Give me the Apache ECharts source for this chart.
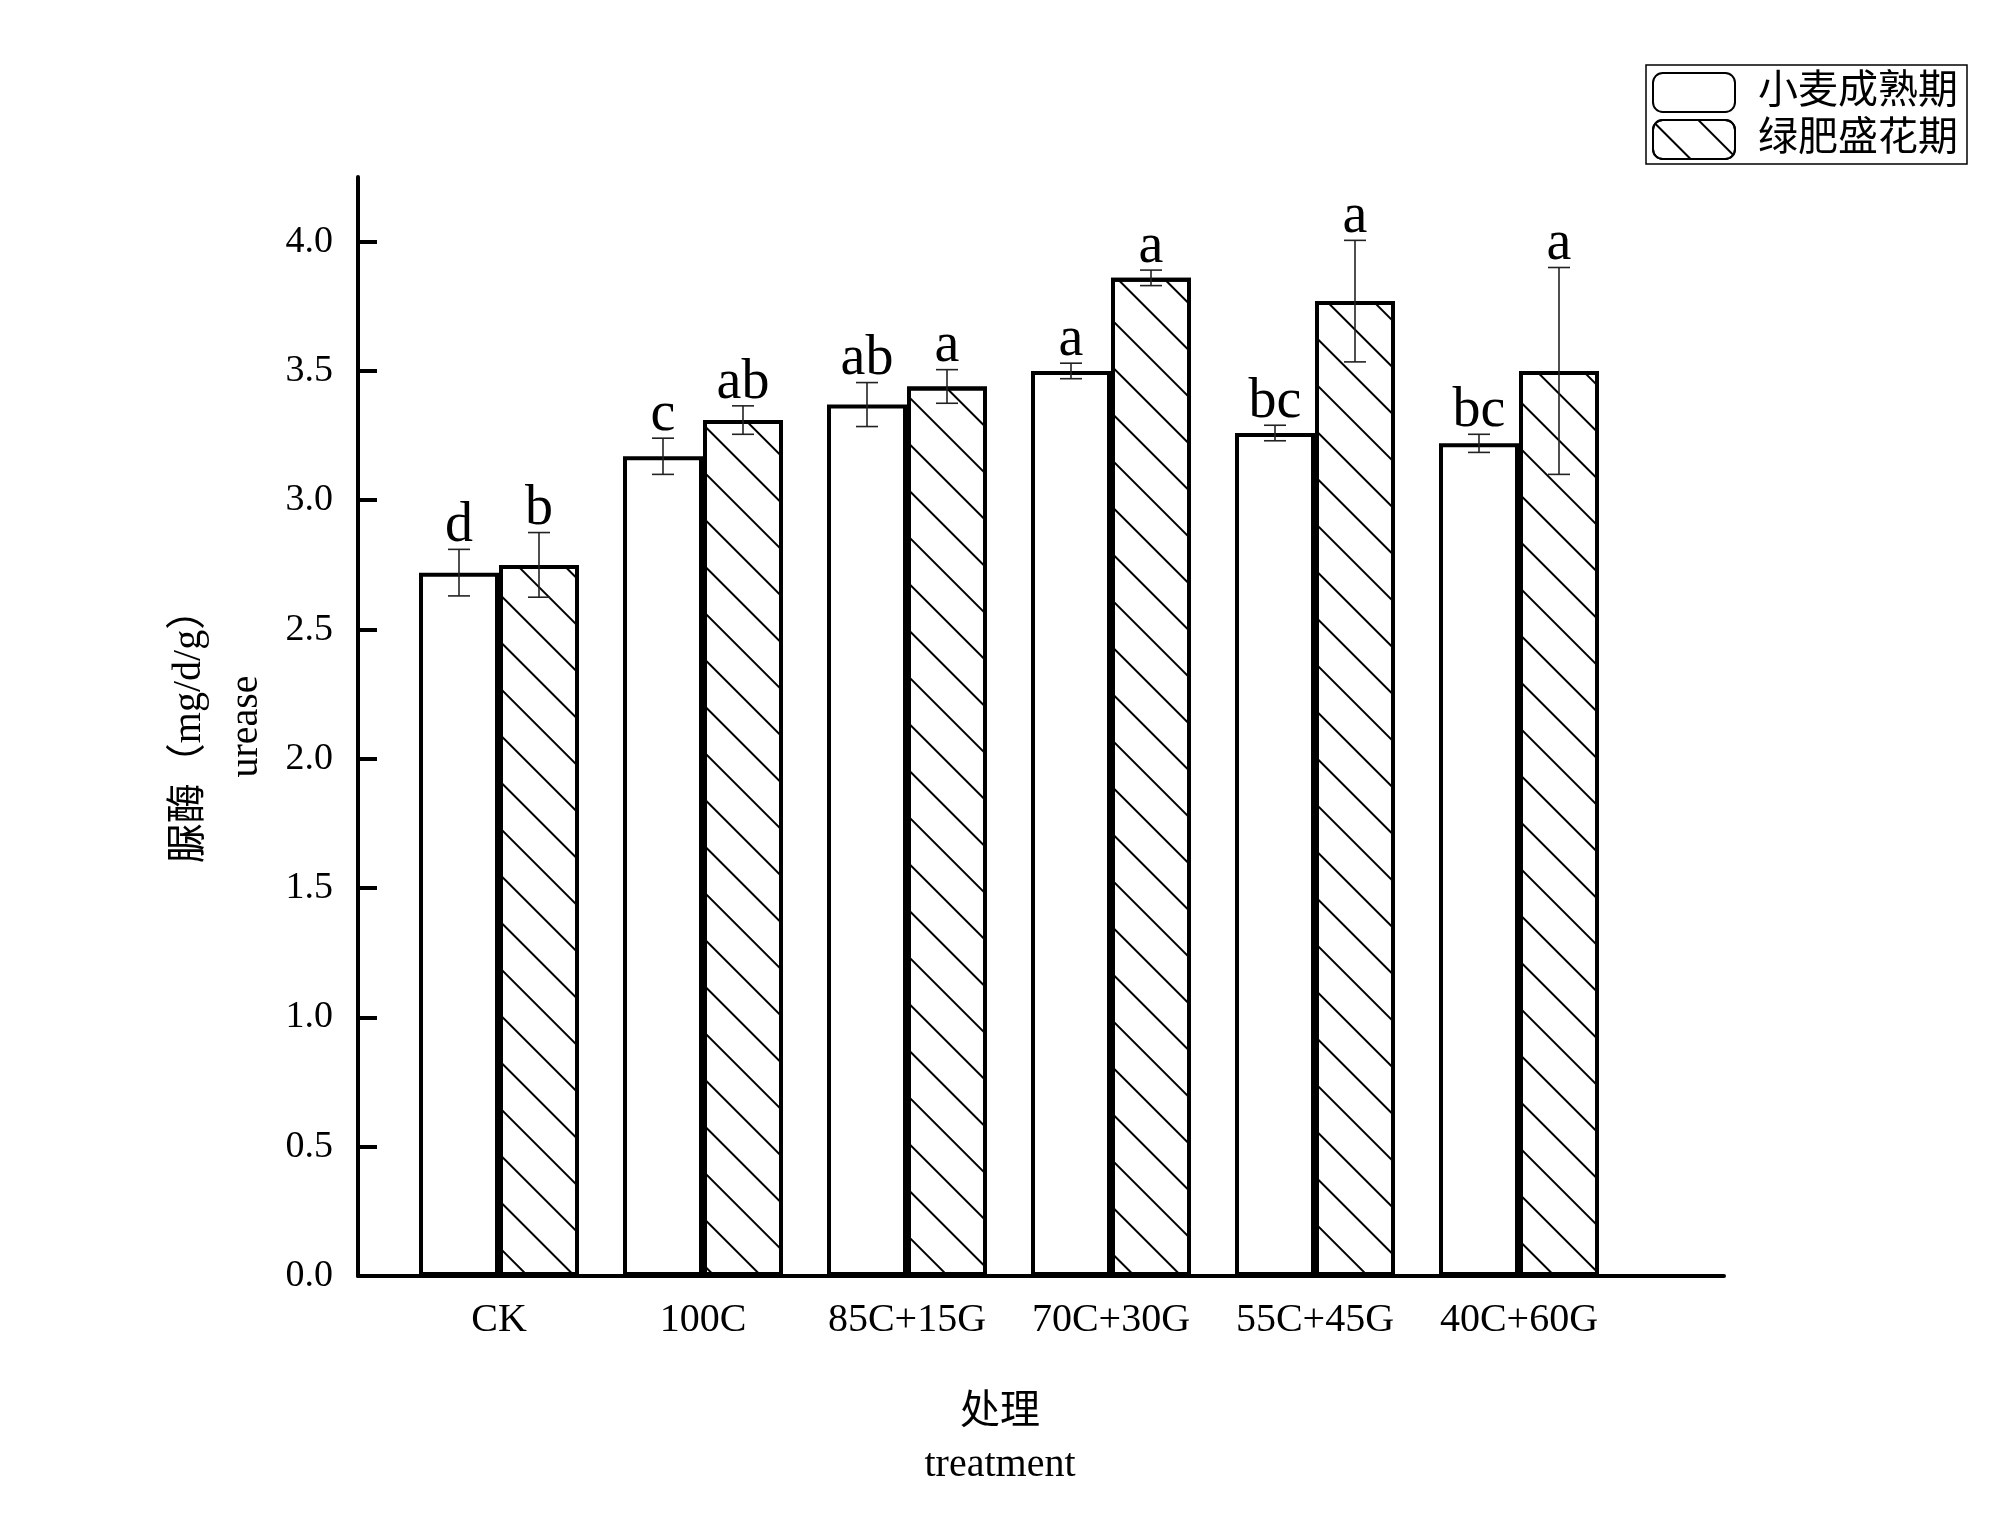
<!DOCTYPE html>
<html><head><meta charset="utf-8">
<script src="https://cdn.jsdelivr.net/npm/echarts@6/dist/echarts.min.js"></script>
<style>html,body{margin:0;padding:0;background:#fff}#c{width:1999px;height:1530px}</style>
</head><body><div id="c"></div>
<script>
const categories = ['CK', '100C', '85C+15G', '70C+30G', '55C+45G', '40C+60G'];
const seriesNames = ['小麦成熟期', '绿肥盛花期'];
const wheatValues = [2.72, 3.17, 3.37, 3.50, 3.26, 3.22];
const wheatErrors = [0.09, 0.07, 0.085, 0.03, 0.03, 0.035];
const wheatLetters = ['d', 'c', 'ab', 'a', 'bc', 'bc'];
const manureValues = [2.75, 3.31, 3.44, 3.86, 3.77, 3.50];
const manureErrors = [0.125, 0.055, 0.065, 0.03, 0.235, 0.40];
const manureLetters = ['b', 'ab', 'a', 'a', 'a', 'a'];
const yTicks = [0, 0.5, 1.0, 1.5, 2.0, 2.5, 3.0, 3.5, 4.0];
const yMin = 0, yMax = 4.25;

const FONT = "'Liberation Serif', 'Noto Sans CJK SC', serif";
const BAR_W = 80;
const CAP = 11;

function errorSeries(values, errors, letters, side) {
  return {
    type: 'custom', xAxisIndex: 0, yAxisIndex: 0, z: 5, silent: true,
    data: values.map((v, i) => [i, v, errors[i]]),
    renderItem(params, api) {
      const i = api.value(0), v = api.value(1), e = api.value(2);
      const c = api.coord([i, v]);
      const x = c[0] + side * BAR_W / 2;
      const top = api.coord([i, v + e])[1];
      const bot = api.coord([i, v - e])[1];
      const ls = { stroke: '#222', lineWidth: 1.6 };
      return {
        type: 'group',
        children: [
          { type: 'line', shape: { x1: x, y1: top, x2: x, y2: bot }, style: ls },
          { type: 'line', shape: { x1: x - CAP, y1: top, x2: x + CAP, y2: top }, style: ls },
          { type: 'line', shape: { x1: x - CAP, y1: bot, x2: x + CAP, y2: bot }, style: ls },
          { type: 'text', style: { text: letters[params.dataIndex], x: x, y: top + 5, align: 'center', verticalAlign: 'bottom', fontSize: 56, fontFamily: FONT, fill: '#000' } }
        ]
      };
    }
  };
}

const chart = echarts.init(document.getElementById('c'), null, { renderer: 'canvas' });
chart.setOption({
  backgroundColor: '#fff',
  animation: false,
  title: {
    text: '处理\ntreatment', left: 995, top: 1381, textAlign: 'center',
    textStyle: { fontSize: 40, fontWeight: 'normal', color: '#000', lineHeight: 53, fontFamily: FONT }
  },
  legend: {
    data: seriesNames, orient: 'vertical', left: 1646, top: 65,
    padding: [7, 9, 4, 6], itemGap: 6, itemWidth: 82, itemHeight: 39,
    borderColor: '#000', borderWidth: 1.5,
    textStyle: { fontSize: 40, color: '#000', fontFamily: FONT, padding: [0, 0, 0, 18] }
  },
  grid: [
    { left: 397, right: 378, top: 177, bottom: 254 },
    { left: 358, right: 275, top: 177, bottom: 254 }
  ],
  xAxis: [
    { type: 'category', gridIndex: 0, data: categories, axisLine: { show: false }, axisTick: { show: false },
      axisLabel: { interval: 0, margin: 24, fontSize: 40, color: '#000', fontFamily: FONT } },
    { type: 'value', gridIndex: 1, min: 0, max: 1, axisLine: { show: true, onZero: false, lineStyle: { color: '#000', width: 4 } },
      axisTick: { show: false }, axisLabel: { show: false }, splitLine: { show: false } }
  ],
  yAxis: [
    { type: 'value', gridIndex: 0, min: yMin, max: yMax, show: false, splitLine: { show: false } },
    { type: 'value', gridIndex: 1, min: yMin, max: yMax,
      axisLine: { show: true, lineStyle: { color: '#000', width: 4 } },
      axisTick: { show: true, inside: true, length: 19, lineStyle: { color: '#000', width: 4 }, customValues: yTicks },
      axisLabel: { margin: 25, fontSize: 38, color: '#000', fontFamily: FONT, customValues: yTicks, formatter: v => v.toFixed(1) },
      splitLine: { show: false },
      name: '脲酶（mg/d/g）\nurease', nameLocation: 'middle', nameRotate: 90, nameGap: 69,
      nameTextStyle: { fontSize: 40, color: '#000', fontFamily: FONT, lineHeight: 57 } }
  ],
  series: [
    { name: seriesNames[0], type: 'bar', xAxisIndex: 0, yAxisIndex: 0, data: wheatValues, barWidth: BAR_W, barGap: '0%',
      itemStyle: { color: '#fff', borderColor: '#000', borderWidth: 4 } },
    { name: seriesNames[1], type: 'bar', xAxisIndex: 0, yAxisIndex: 0, data: manureValues, barWidth: BAR_W, barGap: '0%',
      itemStyle: { color: '#fff', borderColor: '#000', borderWidth: 4,
        decal: { symbol: 'rect', symbolSize: 1, color: '#000', dashArrayX: [1, 0], dashArrayY: [2, 31], rotation: Math.PI / 4 } } },
    errorSeries(wheatValues, wheatErrors, wheatLetters, -1),
    errorSeries(manureValues, manureErrors, manureLetters, 1)
  ]
});
</script></body></html>
